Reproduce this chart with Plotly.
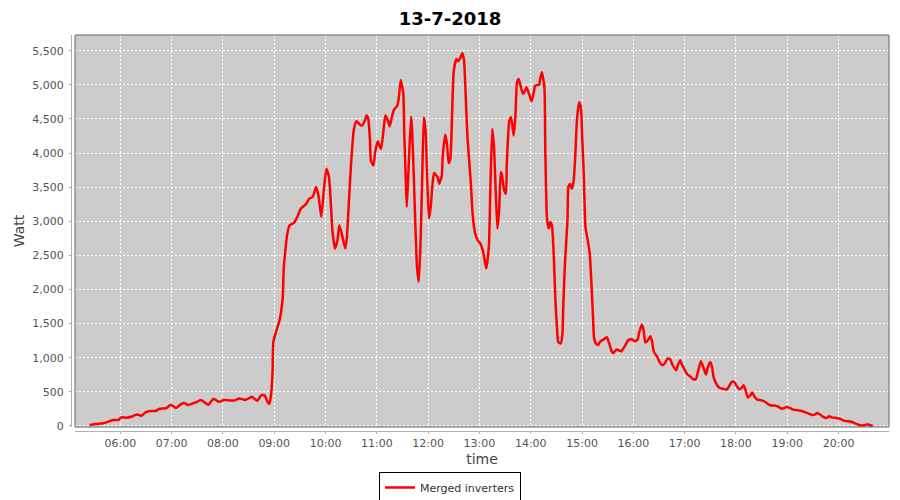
import plotly.graph_objects as go

DAY = "2018-07-13"

times = [
    "05:24", "05:32", "05:40", "05:46", "05:52", "05:58", "06:01", "06:07", "06:13", "06:19",
    "06:25", "06:29", "06:35", "06:41", "06:46", "06:54", "06:59", "07:05", "07:11", "07:15",
    "07:19", "07:25", "07:29", "07:34", "07:38", "07:43", "07:49", "07:55", "08:01", "08:08",
    "08:14", "08:19", "08:26", "08:34", "08:40", "08:45", "08:49", "08:52", "08:54", "08:56",
    "08:58", "08:59", "09:03", "09:06", "09:08", "09:10", "09:11", "09:13", "09:15", "09:18",
    "09:23", "09:27", "09:31", "09:37", "09:41", "09:45", "09:49", "09:52", "09:55", "09:58",
    "10:01", "10:04", "10:06", "10:08", "10:11", "10:14", "10:16", "10:19", "10:23", "10:25",
    "10:27", "10:30", "10:33", "10:36", "10:40", "10:43", "10:46", "10:48", "10:50", "10:52",
    "10:53", "10:56", "10:58", "11:01", "11:03", "11:05", "11:08", "11:10", "11:13", "11:15",
    "11:18", "11:20", "11:24", "11:26", "11:28", "11:31", "11:32", "11:34", "11:35", "11:37",
    "11:40", "11:41", "11:43", "11:45", "11:47", "11:49", "11:51", "11:53", "11:55", "11:57",
    "11:59", "12:01", "12:03", "12:05", "12:07", "12:11", "12:13", "12:16", "12:17", "12:20",
    "12:22", "12:24", "12:26", "12:28", "12:30", "12:33", "12:35", "12:38", "12:40", "12:42",
    "12:44", "12:46", "12:50", "12:52", "12:55", "12:58", "13:01", "13:04", "13:06", "13:08",
    "13:11", "13:13", "13:15", "13:17", "13:19", "13:21", "13:23", "13:25", "13:26", "13:29",
    "13:31", "13:32", "13:35", "13:37", "13:40", "13:42", "13:44", "13:46", "13:48", "13:51",
    "13:53", "13:55", "13:58", "14:01", "14:04", "14:05", "14:10", "14:11", "14:13", "14:16",
    "14:17", "14:19", "14:21", "14:23", "14:25", "14:27", "14:29", "14:31", "14:32", "14:35",
    "14:37", "14:38", "14:40", "14:43", "14:44", "14:46", "14:48", "14:50", "14:52", "14:54",
    "14:56", "14:57", "14:59", "15:00", "15:02", "15:04", "15:07", "15:09", "15:11", "15:13",
    "15:14", "15:16", "15:19", "15:21", "15:25", "15:29", "15:32", "15:35", "15:37", "15:40",
    "15:43", "15:46", "15:50", "15:54", "15:58", "16:02", "16:05", "16:07", "16:10", "16:12",
    "16:14", "16:17", "16:20", "16:22", "16:24", "16:28", "16:31", "16:34", "16:37", "16:40",
    "16:43", "16:46", "16:50", "16:52", "16:55", "16:56", "17:00", "17:03", "17:07", "17:10",
    "17:13", "17:16", "17:19", "17:22", "17:25", "17:27", "17:30", "17:32", "17:34", "17:38",
    "17:41", "17:44", "17:49", "17:51", "17:55", "17:58", "18:01", "18:04", "18:07", "18:09",
    "18:11", "18:14", "18:17", "18:19", "18:22", "18:25", "18:29", "18:32", "18:36", "18:40",
    "18:46", "18:50", "18:53", "18:56", "18:59", "19:03", "19:07", "19:13", "19:17", "19:23",
    "19:29", "19:32", "19:35", "19:38", "19:41", "19:46", "19:49", "19:53", "19:58", "20:02",
    "20:06", "20:12", "20:16", "20:20", "20:25", "20:30", "20:34", "20:37", "20:40",
]

watts = [
    15, 30, 40, 63, 88, 88, 127, 122, 136, 170,
    150, 195, 219, 219, 253, 263, 312, 263, 321, 336,
    307, 331, 350, 380, 350, 312, 400, 355, 380, 375,
    375, 404, 380, 428, 370, 453, 448, 355, 321, 428,
    770, 1232, 1417, 1539, 1670, 1890, 2279, 2571, 2795, 2942,
    2976, 3064, 3185, 3249, 3332, 3356, 3502, 3356, 3064, 3453,
    3770, 3648, 3307, 2869, 2600, 2722, 2942, 2820, 2600, 2771,
    3210, 3867, 4330, 4467, 4418, 4404, 4477, 4550, 4501, 4184,
    3892, 3819, 4014, 4174, 4111, 4062, 4355, 4550, 4477, 4394,
    4550, 4633, 4696, 4842, 5071, 4866, 4330, 3550, 3210, 3746,
    4535, 4404, 3746, 2966, 2333, 2113, 2625, 3600, 4525, 4330,
    3600, 3039, 3210, 3526, 3707, 3648, 3550, 3672, 3940, 4272,
    4136, 3853, 3916, 4574, 5208, 5378, 5344, 5403, 5461, 5354,
    4818, 4233, 3551, 3112, 2820, 2722, 2674, 2576, 2430, 2308,
    2625, 3600, 4355, 4087, 3453, 2893, 3161, 3721, 3697, 3453,
    3404, 3843, 4477, 4525, 4257, 4525, 5037, 5086, 4988, 4866,
    4905, 4964, 4866, 4759, 4915, 4988, 5003, 5086, 5183, 4964,
    4087, 3039, 2893, 2990, 2917, 2479, 1800, 1381, 1234, 1210,
    1332, 1746, 2380, 3014, 3501, 3550, 3477, 3574, 3940, 4476,
    4696, 4744, 4622, 4281, 3696, 2916, 2697, 2526, 2088, 1550,
    1300, 1210, 1186, 1234, 1268, 1300, 1200, 1086, 1071, 1120,
    1110, 1095, 1169, 1257, 1271, 1242, 1266, 1379, 1487, 1403,
    1222, 1257, 1315, 1232, 1086, 1012, 929, 890, 924, 988,
    978, 890, 817, 890, 963, 924, 826, 758, 719, 685,
    685, 817, 949, 856, 753, 856, 939, 866, 709, 597,
    557, 548, 533, 562, 645, 645, 582, 538, 562, 597,
    533, 416, 450, 489, 425, 386, 377, 367, 337, 303,
    298, 279, 254, 259, 279, 264, 240, 230, 220, 191,
    161, 166, 191, 171, 142, 117, 142, 122, 117, 103,
    78, 68, 59, 34, 10, 10, 24, 10, 0,
]

title_text = "13-7-2018"
series_name = "Merged inverters"
x_title = "time"
y_title = "Watt"

x_vals = [f"{DAY} {t}" for t in times]

FONT = "DejaVu Sans"
# page body has an 8px margin, so the figure is sized to fit the 900x500 window
W, H = 892, 492
ML, MR, MT, MB = 63, 11, 27, 69
GAP = 4
pw = W - ML - MR
ph = H - MT - MB
xd0 = GAP / pw
yd0 = GAP / ph

fig = go.Figure()
fig.add_trace(go.Scatter(
    x=x_vals, y=watts, mode="lines", name=series_name,
    line=dict(color="#FF0000", width=2.5, shape="spline", smoothing=0.5),
))

fig.update_layout(
    width=W, height=H,
    margin=dict(l=ML, r=MR, t=MT, b=MB, autoexpand=False),
    paper_bgcolor="white",
    plot_bgcolor="#CCCCCC",
    font=dict(family=FONT, size=11, color="#444444"),
    title=dict(text=f"<b>{title_text}</b>", x=442 / W, xref="container", xanchor="center",
               y=1 - 11 / H, yref="container", yanchor="middle",
               font=dict(family=FONT, size=18, color="black")),
    showlegend=True,
    legend=dict(orientation="h", x=442 / W, xref="container", xanchor="center",
                y=(H - 479.5) / H, yref="container", yanchor="middle",
                bgcolor="white", bordercolor="black", borderwidth=1,
                font=dict(family=FONT, size=11, color="#333333"),
                itemwidth=30),
    xaxis=dict(
        type="date", domain=[xd0, 1], anchor="free", position=0,
        range=[f"{DAY} 05:07:00", f"{DAY} 20:59:00"],
        tickformat="%H:%M", dtick=3600000, tick0=f"{DAY} 06:00",
        showgrid=True, gridcolor="white", griddash="2px,2px", gridwidth=1,
        showline=True, linecolor="#B0B0B0", linewidth=1,
        ticks="outside", ticklen=2, tickcolor="#B0B0B0",
        zeroline=False,
        title=dict(text=x_title, font=dict(family=FONT, size=14, color="#444444"), standoff=4),
        tickfont=dict(family=FONT, size=11, color="#555555"),
    ),
    yaxis=dict(
        domain=[yd0, 1], anchor="free", position=0,
        range=[-15, 5730],
        tickformat=",", dtick=500, tick0=0,
        showgrid=True, gridcolor="white", griddash="2px,2px", gridwidth=1,
        showline=True, linecolor="#B0B0B0", linewidth=1,
        ticks="outside", ticklen=2, tickcolor="#B0B0B0",
        ticklabelstandoff=3,
        zeroline=False,
        title=dict(text=y_title, font=dict(family=FONT, size=14, color="#444444"), standoff=3),
        tickfont=dict(family=FONT, size=11, color="#555555"),
    ),
    shapes=[dict(type="rect", xref="paper", yref="paper", x0=xd0, x1=1, y0=yd0, y1=1,
                 line=dict(color="#666666", width=1), fillcolor="rgba(0,0,0,0)", layer="above")],
)

fig.write_html("out.html")
